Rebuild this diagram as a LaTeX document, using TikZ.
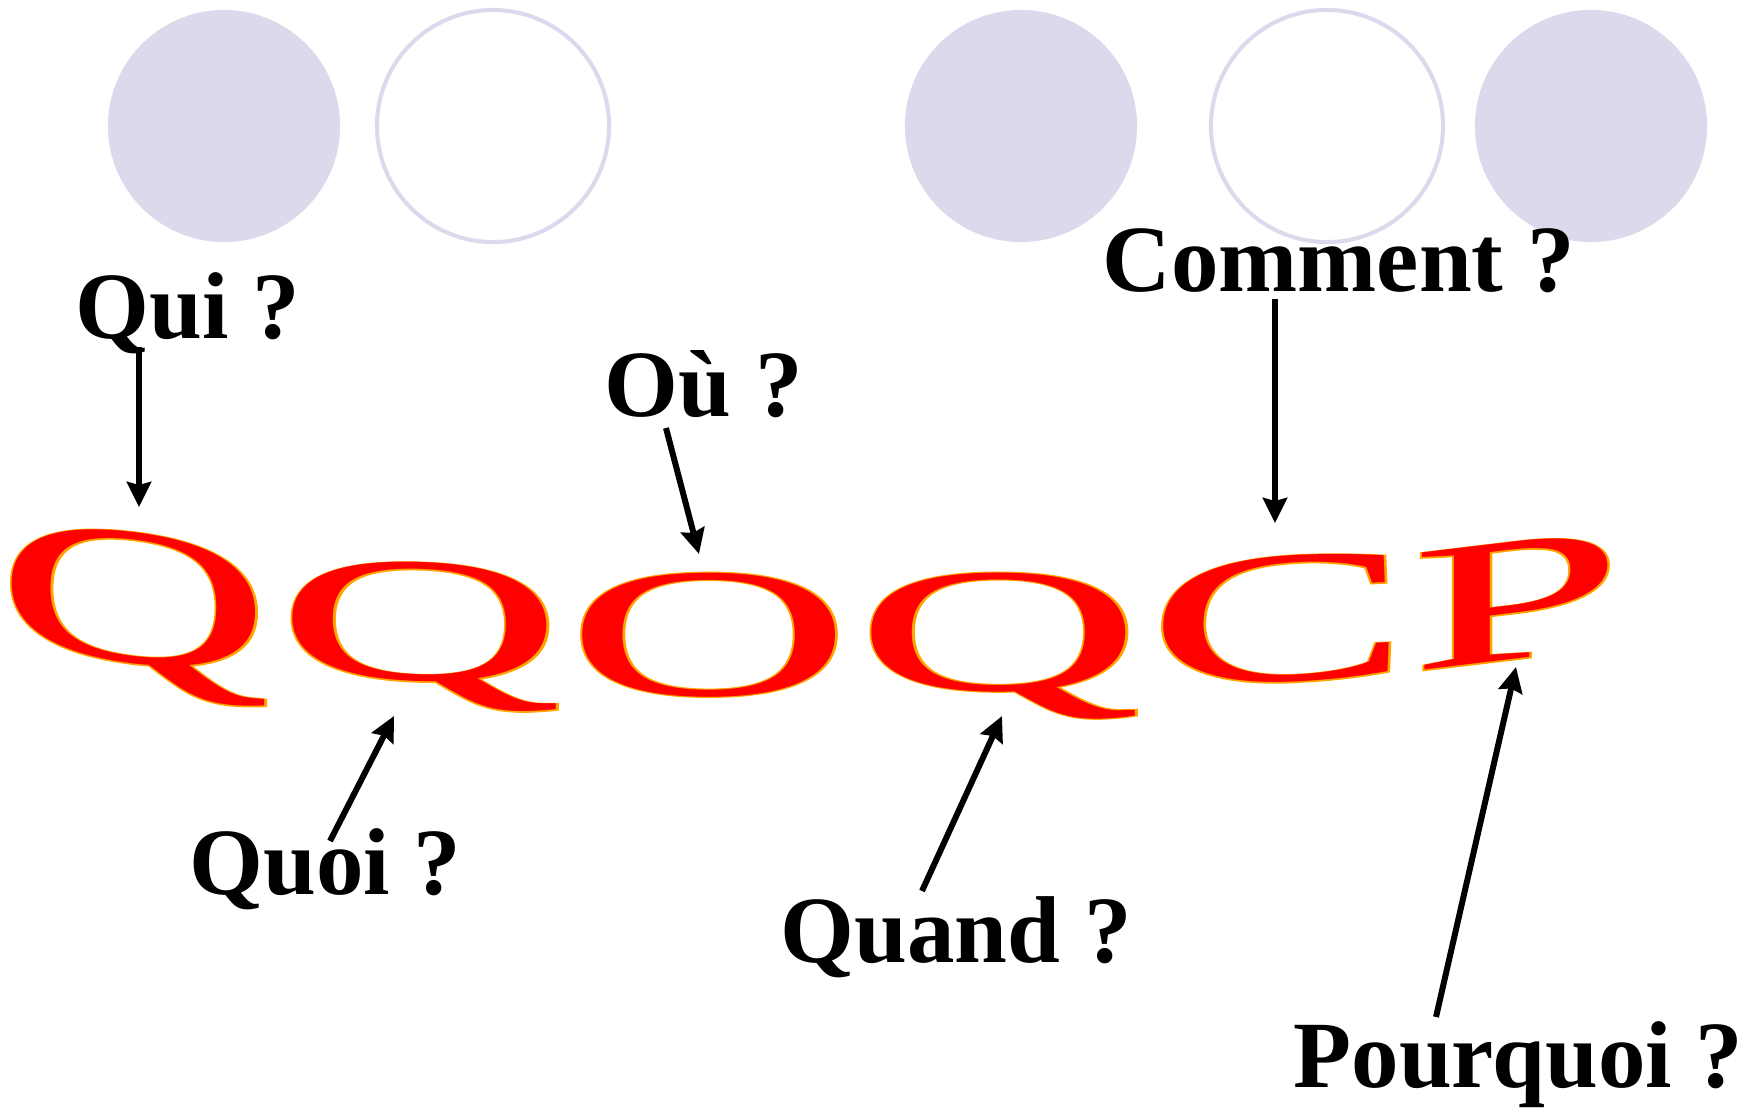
\documentclass[tikz,border=0pt]{standalone}
\usepackage{fontspec}
\setmainfont{Liberation Serif}
\newfontfamily\rimfont{Liberation Serif}[FakeBold=1.2]
\usetikzlibrary{arrows.meta}
\definecolor{lav}{RGB}{218,218,236}
\definecolor{wordorange}{RGB}{255,165,0}
\definecolor{wordred}{RGB}{255,0,0}
\tikzset{
  lbl/.style={anchor=base west, inner sep=0pt, font=\bfseries\fontsize{27}{30}\selectfont},
  pointer/.style={line width=1.7pt, -{Stealth[length=0.25cm,width=0.24cm,inset=0.03cm]}},
  disc/.style={fill=lav, draw=none},
  ring/.style={draw=lav, line width=1.15pt, fill=white},
  bigl/.style={anchor=base, inner sep=0pt, transform shape, font=\fontsize{52}{60}\selectfont},
}
% name, x, y (baseline centre), xscale, yscale, slant, glyph
\newcommand{\bigletter}[7]{%
  \begin{scope}[shift={(#2,#3)}, yslant=#6, xscale=#4, yscale=#5]
    \node[bigl] (#1) at (0,0) {\rlap{\textcolor{wordorange}{\rimfont #7}}\textcolor{wordred}{#7}};
  \end{scope}}
\begin{document}
\begin{tikzpicture}[x=0.01cm, y=-0.01cm]
\useasboundingbox (0,0) rectangle (1753,1111);
% circles
\fill[disc] (224,126) circle[radius=1.16cm];
\draw[ring] (493,126) circle[radius=1.16cm];
\fill[disc] (1021,126) circle[radius=1.16cm];
\draw[ring] (1327,126) circle[radius=1.16cm];
\fill[disc] (1591,126) circle[radius=1.16cm];
% big letters
\bigletter{q1}{134}{662}{2.08}{1.07}{-0.12}{Q}
\bigletter{q2}{420}{680}{2.17}{0.97}{-0.03}{Q}
\bigletter{o1}{709}{695}{2.16}{1.01}{0}{O}
\bigletter{q3}{999}{690}{2.17}{0.97}{0}{Q}
\bigletter{c1}{1279}{681}{2.16}{1.03}{0.05}{C}
\bigletter{p1}{1517}{659}{2.08}{0.98}{0.12}{P}
% labels
\node[lbl] (qui) at (75,338) {Qui ?};
\node[lbl] (ou) at (604,416) {Où ?};
\node[lbl] (comment) at (1102,291) {Comment ?};
\node[lbl] (quoi) at (189,894) {Quoi ?};
\node[lbl] (quand) at (780,962) {Quand ?};
\node[lbl] (pourquoi) at (1293,1087) {Pourquoi ?};
% arrow ends
\coordinate (quiS) at (139,347);  \coordinate (quiE) at (139,507);
\coordinate (ouS) at (666,428);   \coordinate (ouE) at (699,554);
\coordinate (comS) at (1275,299); \coordinate (comE) at (1275,523);
\coordinate (quoiS) at (330,841); \coordinate (quoiE) at (394,716);
\coordinate (quandS) at (922,891); \coordinate (quandE) at (1002,716);
\coordinate (pqS) at (1436,1017); \coordinate (pqE) at (1516,667);
\draw[pointer] (quiS) -- (quiE);
\draw[pointer] (ouS) -- (ouE);
\draw[pointer] (comS) -- (comE);
\draw[pointer] (quoiS) -- (quoiE);
\draw[pointer] (quandS) -- (quandE);
\draw[pointer] (pqS) -- (pqE);
\end{tikzpicture}
\end{document}
